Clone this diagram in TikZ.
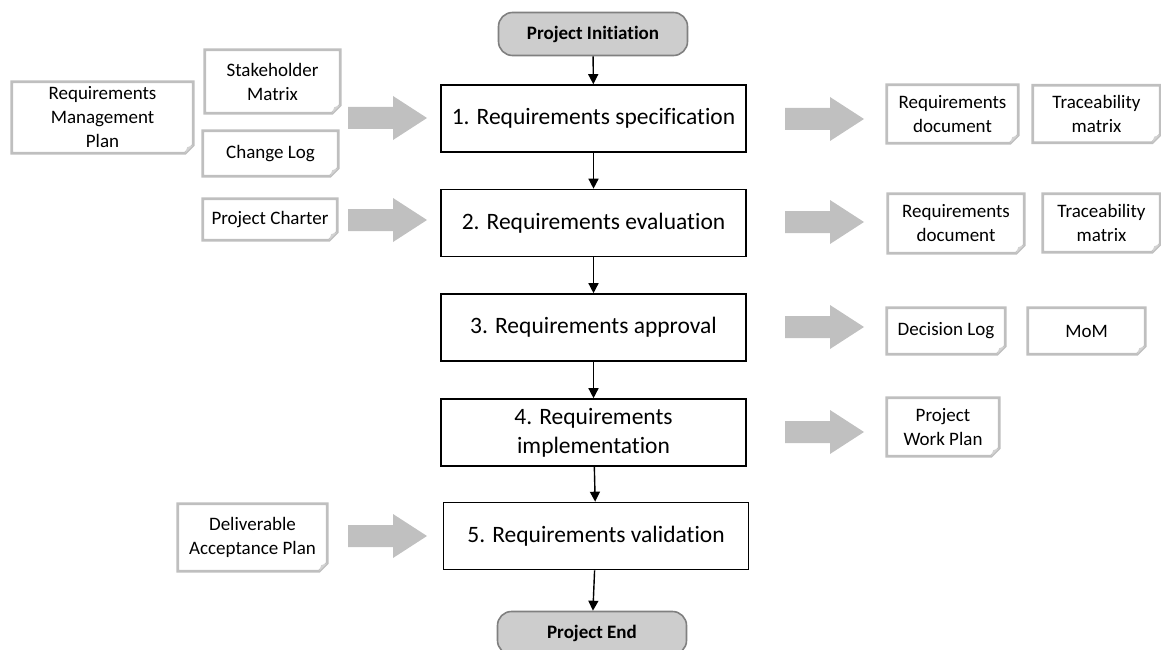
\documentclass[tikz,border=0pt]{standalone}
\usepackage{fontspec}
\setmainfont{Carlito}[Ligatures=NoCommon]
\usepackage{xcolor}
\usepackage{tikz}
\usetikzlibrary{arrows.meta,positioning}
\definecolor{DocLineColor}{HTML}{BFBFBF}
\definecolor{BlockArrowColor}{HTML}{C0C0C0}
\definecolor{EndFillColor}{HTML}{CDCDCD}
\definecolor{EndLineColor}{HTML}{808080}

\begin{document}
\begin{tikzpicture}[
      x=1pt, y=-1pt,
      every node/.style={align=center, inner sep=0pt},
      stepbox/.style={draw=black, line width=1.6pt, minimum width=305pt, minimum height=67pt,
        font=\fontsize{23.5}{29}\selectfont},
      endbox/.style={draw=EndLineColor, fill=EndFillColor, rounded corners=14pt, line width=1.6pt,
        minimum width=189pt, minimum height=43pt, font=\bfseries\fontsize{19}{23}\selectfont},
      doc/.style 2 args={minimum width=#1, minimum height=#2, font=\fontsize{19}{24}\selectfont},
      docline/.style={draw=DocLineColor, line width=2.8pt, line join=miter},
      flow/.style={-{Triangle[length=10pt,width=10pt]}, line width=1.4pt},
      blockarrow/.pic={
        \fill[BlockArrowColor] (0,-11) -- (45,-11) -- (45,-22) -- (79,0) -- (45,22) -- (45,11) -- (0,11) -- cycle;
      },
  ]
  \useasboundingbox (0,0) rectangle (1161,650);
  \clip (0,0) rectangle (1161,650);
  % ┌─────────────────┐
  % │ Prozessschritte │
  % └─────────────────┘
  \node[endbox] (init) at (593,34) {Project Initiation};
  \node[stepbox] (s1) at (593.5,118.5) {1. Requirements specification};
  \node[stepbox] (s2) at (593.5,223) {2. Requirements evaluation};
  \node[stepbox] (s3) at (593.5,327.5) {3. Requirements approval};
  \node[stepbox] (s4) at (593.5,432.5) {4. Requirements\\implementation};
  \node[stepbox] (s5) at (596,536) {5. Requirements validation};
  \node[endbox] (end) at (592,633) {Project End};

  \draw[flow] (init) -- (s1);
  \draw[flow] (s1) -- (s2);
  \draw[flow] (s2) -- (s3);
  \draw[flow] (s3) -- (s4);
  \draw[flow] (s4) -- (s5);
  \draw[flow] (s5) -- (end);

  % ┌───────────────────┐
  % │ Eingangsdokumente │
  % └───────────────────┘
  \node[doc={181pt}{71pt}] (rmp) at (102.5,117.5) {Requirements\\Management\\Plan};
  \node[doc={135pt}{63pt}] (shm) at (272.5,81.5) {Stakeholder\\Matrix};
  \node[doc={135pt}{45pt}] (chl) at (270.5,153.5) {Change Log};
  \node[doc={134pt}{41pt}] (pch) at (270,219.5) {Project Charter};
  \node[doc={149pt}{67pt}] (dap) at (252.5,537.5) {Deliverable\\Acceptance Plan};

  % ┌───────────────────┐
  % │ Ausgangsdokumente │
  % └───────────────────┘
  \node[doc={131pt}{58pt}] (rdA) at (952.5,114) {Requirements\\document};
  \node[doc={127pt}{57pt}] (tmA) at (1096.5,114) {Traceability\\matrix};
  \node[doc={136pt}{59pt}] (rdB) at (956,223.5) {Requirements\\document};
  \node[doc={117pt}{58pt}] (tmB) at (1101.5,223) {Traceability\\matrix};
  \node[doc={118pt}{46pt}] (dcl) at (946,331) {Decision Log};
  \node[doc={117pt}{46pt}] (mom) at (1086.5,331) {MoM};
  \node[doc={112pt}{58pt}] (pwp) at (943,427) {Project\\Work Plan};

  % Blatt mit umgeknickter Ecke
  \foreach \n in {rmp,shm,chl,pch,dap,rdA,tmA,rdB,tmB,dcl,mom,pwp} {
    \draw[docline] (\n.north west) -- (\n.north east) -- ([yshift=8pt]\n.south east)
      -- ([xshift=-8pt]\n.south east) -- (\n.south west) -- cycle;
    \fill[DocLineColor!70] ([yshift=8pt]\n.south east) -- ([xshift=-8pt]\n.south east)
      -- ([xshift=-6pt,yshift=6pt]\n.south east) -- cycle;
  }

  % ┌─────────────┐
  % │ Blockpfeile │
  % └─────────────┘
  \pic at (348,118) {blockarrow};
  \pic at (348,220) {blockarrow};
  \pic at (348,536) {blockarrow};
  \pic at (785,119) {blockarrow};
  \pic at (785,222) {blockarrow};
  \pic at (785,327) {blockarrow};
  \pic at (785,432) {blockarrow};
\end{tikzpicture}
\end{document}
